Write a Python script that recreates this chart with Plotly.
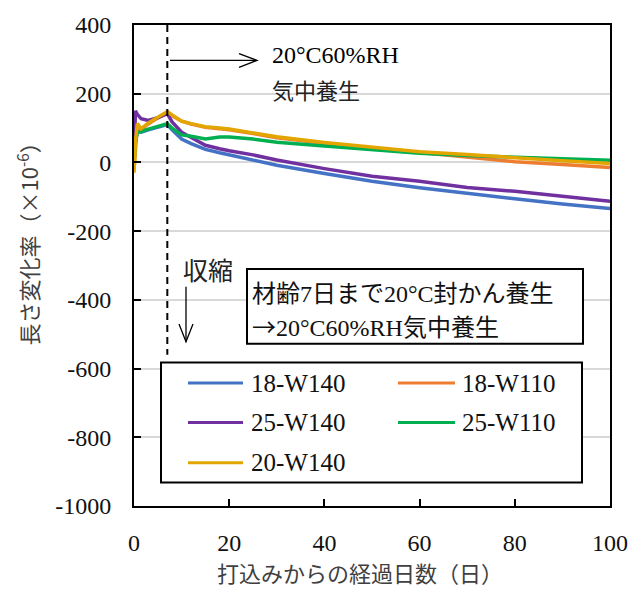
import plotly.graph_objects as go

# ---- data: length change (x10^-6) vs. days since casting ----
days = [0, 0.3, 0.7, 1.5, 3, 5, 7, 8, 10, 12, 15, 18, 20, 25, 30, 40, 50, 60, 70, 80, 90, 100]

s18_w140 = [0, 60, 90, 88, 95, 103, 110, 95, 68, 55, 38, 28, 22, 5, -8, -32, -55, -74, -91, -106, -121, -134]
s18_w110 = [-20, 55, 110, 96, 112, 130, 145, 136, 120, 112, 102, 98, 95, 84, 72, 56, 43, 30, 16, 2, -6, -15]
s25_w140 = [0, 150, 140, 127, 122, 130, 142, 118, 88, 72, 50, 40, 34, 22, 7, -18, -40, -55, -73, -84, -99, -113]
s25_w110 = [0, 60, 88, 90, 97, 105, 113, 100, 80, 76, 68, 74, 74, 68, 59, 48, 38, 27, 20, 16, 11, 6]
s20_w140 = [-30, 60, 113, 98, 115, 132, 148, 138, 120, 113, 104, 100, 97, 86, 75, 58, 45, 31, 23, 13, 5, -3]

names = ["18-W140", "18-W110", "25-W140", "25-W110", "20-W140"]
series = [s18_w140, s18_w110, s25_w140, s25_w110, s20_w140]
colors = ["#4472C4", "#ED7D31", "#7030A0", "#00B050", "#E3A600"]

x_ticks = [0, 20, 40, 60, 80, 100]
y_ticks = [-1000, -800, -600, -400, -200, 0, 200, 400]
x_ticklabels = ["0", "20", "40", "60", "80", "100"]
y_ticklabels = ["-1000", "-800", "-600", "-400", "-200", "0", "200", "400"]
change_day = 7
dash_bottom = -560

# ---- layout geometry (pixels) ----
W, H = 642, 590
L, R, T, B = 134, 610, 17, 506
PW, PH = R - L, B - T


def px(x):
    return (x - L) / PW


def py(y):
    return 1 - (y - T) / PH


SERIF = "Liberation Serif"
CJK = "Noto Sans CJK JP"


def mixed(text):
    """Wrap a label so that Latin runs use the serif face and kana/kanji the CJK face."""
    out, buf, cur = [], "", None
    for ch in text:
        kind = "cjk" if (ord(ch) > 0x2000 and ch != "°") else "lat"
        if kind != cur and buf:
            out.append((cur, buf))
            buf = ""
        cur = kind
        buf += ch
    if buf:
        out.append((cur, buf))
    parts = []
    for kind, s in out:
        fam = CJK if kind == "cjk" else SERIF
        parts.append(f"<span style='font-family:{fam}'>{s}</span>")
    return "".join(parts)


fig = go.Figure()
for name, vals, col in zip(names, series, colors):
    fig.add_trace(go.Scatter(x=days, y=vals, mode="lines", name=name,
                             line=dict(color=col, width=3.5), showlegend=False))

shapes = []
annotations = []

# dashed line marking the start of drying
shapes.append(dict(type="line", xref="x", yref="y", x0=change_day, x1=change_day,
                   y0=y_ticks[-1], y1=dash_bottom,
                   line=dict(color="black", width=2, dash="7px,5px"), layer="above"))

# arrow to the right: drying condition
shapes.append(dict(type="line", xref="paper", yref="paper", x0=px(170), x1=px(257),
                   y0=py(53), y1=py(53), line=dict(color="black", width=1.3)))
shapes.append(dict(type="path", xref="paper", yref="paper",
                   path=f"M {px(239)},{py(46)} L {px(257)},{py(53)} L {px(239)},{py(60)}",
                   line=dict(color="black", width=1.3)))
annotations.append(dict(text="20°C60%RH", xref="paper", yref="paper", x=px(270), y=py(48),
                        xanchor="left", yanchor="middle", showarrow=False,
                        font=dict(family=SERIF, size=24, color="black")))
annotations.append(dict(text="気中養生", xref="paper", yref="paper", x=px(270), y=py(82),
                        xanchor="left", yanchor="middle", showarrow=False,
                        font=dict(family=CJK, size=22, color="#222")))

# downward arrow: shrinkage
annotations.append(dict(text="収縮", xref="paper", yref="paper", x=px(208), y=py(265),
                        xanchor="center", yanchor="middle", showarrow=False,
                        font=dict(family=CJK, size=25, color="#222")))
shapes.append(dict(type="line", xref="paper", yref="paper", x0=px(186), x1=px(186),
                   y0=py(283), y1=py(339), line=dict(color="black", width=1.3)))
shapes.append(dict(type="path", xref="paper", yref="paper",
                   path=f"M {px(179)},{py(321)} L {px(186)},{py(339)} L {px(193)},{py(321)}",
                   line=dict(color="black", width=1.3)))

# curing description box
shapes.append(dict(type="rect", xref="paper", yref="paper", x0=px(247), x1=px(583),
                   y0=py(265), y1=py(341), fillcolor="white",
                   line=dict(color="black", width=2), layer="above"))
annotations.append(dict(text=mixed("材齢7日まで20°C封かん養生"), xref="paper", yref="paper",
                        x=px(250), y=py(288), xanchor="left", yanchor="middle", showarrow=False,
                        font=dict(family=CJK, size=24, color="#111")))
annotations.append(dict(text=mixed("→20°C60%RH気中養生"), xref="paper", yref="paper",
                        x=px(250), y=py(323), xanchor="left", yanchor="middle", showarrow=False,
                        font=dict(family=CJK, size=24, color="#111")))

# legend box
shapes.append(dict(type="rect", xref="paper", yref="paper", x0=px(161), x1=px(582),
                   y0=py(360), y1=py(482), fillcolor="white",
                   line=dict(color="black", width=2), layer="above"))
leg_cols = [(188, 243, 249), (398, 455, 460)]
leg_rows = [381, 421, 462]
for i, (name, col) in enumerate(zip(names, colors)):
    r, c = divmod(i, 2)
    x0, x1, xt = leg_cols[c]
    yy = leg_rows[r]
    shapes.append(dict(type="line", xref="paper", yref="paper", x0=px(x0), x1=px(x1),
                       y0=py(yy), y1=py(yy), line=dict(color=col, width=3), layer="above"))
    annotations.append(dict(text=name, xref="paper", yref="paper", x=px(xt), y=py(yy),
                            xanchor="left", yanchor="middle", showarrow=False,
                            font=dict(family=SERIF, size=25, color="#111")))

# axis titles
annotations.append(dict(text="打込みからの経過日数（日）", xref="paper", yref="paper",
                        x=px(360), y=py(573), xanchor="center", yanchor="middle",
                        showarrow=False, font=dict(family=CJK, size=22, color="#404040")))
annotations.append(dict(text="長さ変化率（×10<sup>-6</sup>）", xref="paper", yref="paper",
                        x=px(27), y=py(234), xanchor="center", yanchor="middle", textangle=-90,
                        showarrow=False, font=dict(family=CJK, size=22, color="#404040")))

tick_font = dict(family=SERIF, size=24, color="#111")

fig.update_layout(
    width=W, height=H,
    margin=dict(l=L, r=W - R, t=T, b=H - B),
    paper_bgcolor="white", plot_bgcolor="white",
    font=dict(family=SERIF, size=24, color="#111"),
    shapes=shapes, annotations=annotations,
    showlegend=False,
)
fig.update_xaxes(range=[x_ticks[0], x_ticks[-1]], tickmode="array", tickvals=x_ticks,
                 ticktext=x_ticklabels, showgrid=False,
                 showline=True, linecolor="black", linewidth=2, mirror=True,
                 ticks="inside", ticklen=7, tickwidth=2, tickcolor="black",
                 ticklabelstandoff=14, zeroline=False, tickfont=tick_font)
fig.update_yaxes(range=[y_ticks[0], y_ticks[-1]], tickmode="array", tickvals=y_ticks,
                 ticktext=y_ticklabels, showgrid=True,
                 gridcolor="#D9D9D9", gridwidth=1.5,
                 showline=True, linecolor="black", linewidth=2, mirror=True,
                 ticks="inside", ticklen=7, tickwidth=2, tickcolor="black",
                 ticklabelstandoff=16, zeroline=False, tickfont=tick_font)

fig.write_html("out.html")
